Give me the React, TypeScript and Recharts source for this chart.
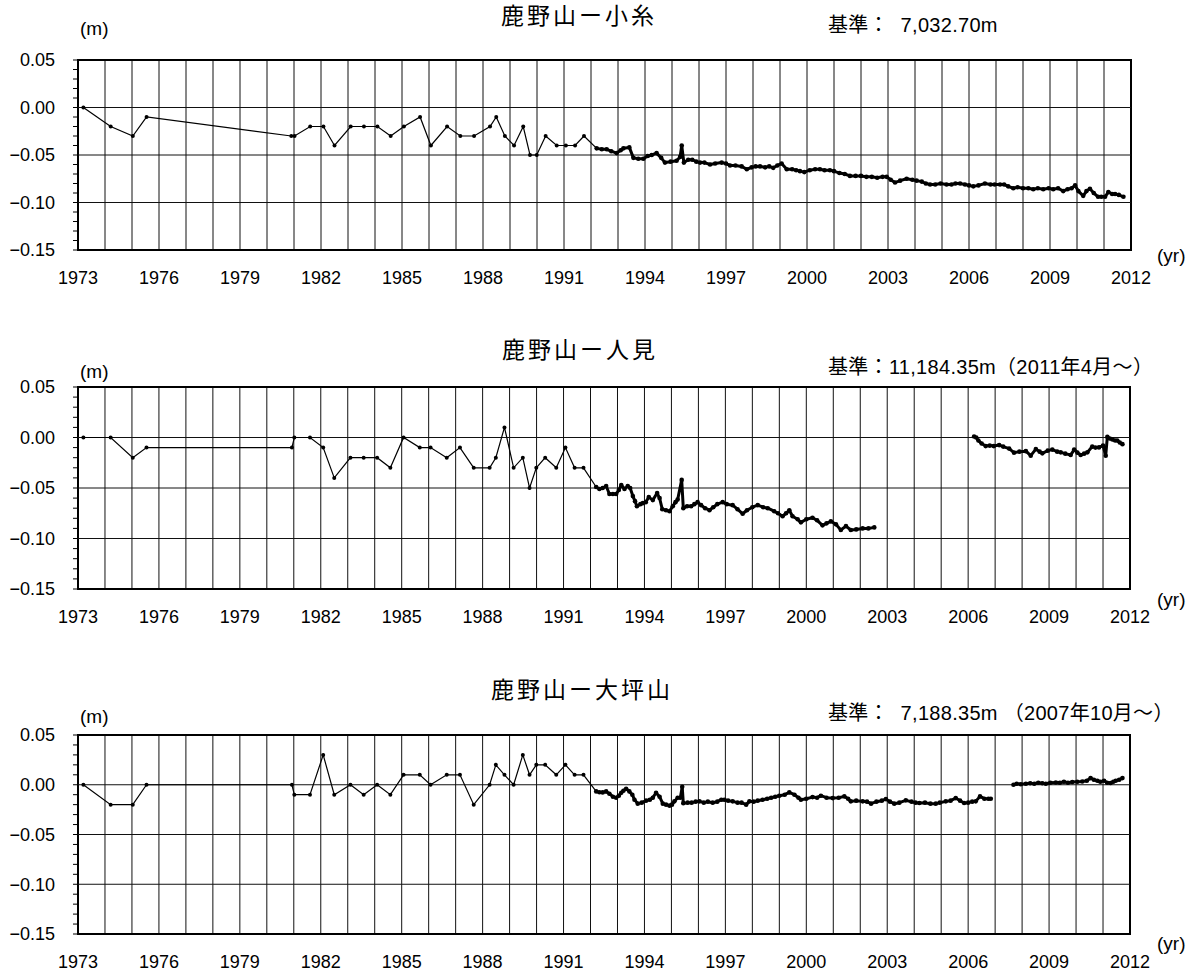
import React from 'react';
import {
  LineChart,
  Line,
  XAxis,
  YAxis,
  CartesianGrid,
  ReferenceLine,
  ReferenceArea
} from 'recharts';

// x-axis: gridline every year, label every 3 years
const yearTicks = [
  1973, 1974, 1975, 1976, 1977, 1978, 1979, 1980, 1981, 1982,
  1983, 1984, 1985, 1986, 1987, 1988, 1989, 1990, 1991, 1992,
  1993, 1994, 1995, 1996, 1997, 1998, 1999, 2000, 2001, 2002,
  2003, 2004, 2005, 2006, 2007, 2008, 2009, 2010, 2011, 2012
];
const labelYears = [1973, 1976, 1979, 1982, 1985, 1988, 1991, 1994, 1997, 2000, 2003, 2006, 2009, 2012];

// y-axis: minor tick every 0.01, labels / gridlines every 0.05
const yTicks = [
  -0.15, -0.14, -0.13, -0.12, -0.11, -0.1, -0.09, -0.08, -0.07, -0.06,
  -0.05, -0.04, -0.03, -0.02, -0.01, 0, 0.01, 0.02, 0.03, 0.04, 0.05
];
const yMajor = [-0.15, -0.1, -0.05, 0, 0.05];
const yGrid = [-0.1, -0.05, 0];

// 鹿野山ー小糸 : survey points up to 1991, then dense series
const koitoEarly: [number, number][] = [
  [1973.2, 0], [1974.21, -0.02], [1975.03, -0.03], [1975.54, -0.01],
  [1980.9, -0.03], [1981.02, -0.03], [1981.6, -0.02], [1982.09, -0.02], [1982.5, -0.04],
  [1983.1, -0.02], [1983.59, -0.02], [1984.09, -0.02], [1984.58, -0.03], [1985.07, -0.02],
  [1985.67, -0.01], [1986.07, -0.04], [1986.67, -0.02], [1987.16, -0.03], [1987.67, -0.03],
  [1988.26, -0.02], [1988.49, -0.01], [1988.81, -0.03], [1989.15, -0.04], [1989.49, -0.02],
  [1989.74, -0.05], [1989.99, -0.05], [1990.32, -0.03], [1990.73, -0.04], [1991.07, -0.04],
  [1991.41, -0.04], [1991.74, -0.03]
];
const koitoDense: [number, number][] = [
  [1992.21, -0.043], [1992.4, -0.044], [1992.58, -0.044], [1992.75, -0.046], [1992.95, -0.048],
  [1993.1, -0.045], [1993.2, -0.043], [1993.42, -0.042], [1993.57, -0.053], [1993.75, -0.054],
  [1993.94, -0.054], [1994.1, -0.051], [1994.25, -0.05], [1994.43, -0.048], [1994.6, -0.053],
  [1994.74, -0.058], [1994.95, -0.057], [1995.17, -0.056], [1995.3, -0.052], [1995.36, -0.04],
  [1995.44, -0.058], [1995.6, -0.055], [1995.75, -0.055], [1995.9, -0.057], [1996.04, -0.058],
  [1996.2, -0.058], [1996.41, -0.06], [1996.6, -0.059], [1996.84, -0.058], [1997.0, -0.059],
  [1997.15, -0.061], [1997.35, -0.061], [1997.58, -0.062], [1997.77, -0.065], [1997.95, -0.063],
  [1998.1, -0.062], [1998.26, -0.062], [1998.45, -0.063], [1998.6, -0.062], [1998.75, -0.0635],
  [1998.9, -0.061], [1999.06, -0.059], [1999.25, -0.065], [1999.45, -0.065], [1999.6, -0.066],
  [1999.74, -0.067], [1999.9, -0.068], [2000.1, -0.066], [2000.3, -0.065], [2000.48, -0.065],
  [2000.65, -0.066], [2000.85, -0.066], [2001.0, -0.067], [2001.2, -0.069], [2001.4, -0.07],
  [2001.59, -0.072], [2001.8, -0.072], [2002.0, -0.072], [2002.2, -0.073], [2002.4, -0.073],
  [2002.6, -0.074], [2002.8, -0.073], [2002.95, -0.073], [2003.1, -0.076], [2003.26, -0.079],
  [2003.45, -0.077], [2003.69, -0.075], [2003.9, -0.076], [2004.06, -0.077], [2004.25, -0.078],
  [2004.4, -0.08], [2004.56, -0.081], [2004.75, -0.081], [2004.95, -0.08], [2005.17, -0.081],
  [2005.35, -0.081], [2005.5, -0.08], [2005.67, -0.08], [2005.85, -0.081], [2006.0, -0.082],
  [2006.16, -0.083], [2006.35, -0.082], [2006.59, -0.08], [2006.8, -0.081], [2006.95, -0.081],
  [2007.15, -0.081], [2007.3, -0.081], [2007.45, -0.083], [2007.64, -0.085], [2007.8, -0.084],
  [2008.0, -0.085], [2008.2, -0.085], [2008.38, -0.086], [2008.55, -0.085], [2008.75, -0.086],
  [2008.95, -0.085], [2009.12, -0.086], [2009.3, -0.085], [2009.49, -0.088], [2009.65, -0.086],
  [2009.8, -0.085], [2009.93, -0.082], [2010.05, -0.088], [2010.23, -0.093], [2010.35, -0.088],
  [2010.48, -0.0856], [2010.62, -0.09], [2010.78, -0.094], [2010.9, -0.094], [2011.04, -0.094],
  [2011.16, -0.089], [2011.3, -0.091], [2011.41, -0.091], [2011.55, -0.092], [2011.72, -0.094]
];

// 鹿野山ー人見 : early points, dense to 2002, gap, then dense from 2006
const hitomiEarly: [number, number][] = [
  [1973.2, 0], [1974.21, 0], [1975.03, -0.02], [1975.54, -0.01],
  [1980.93, -0.01], [1981.02, 0], [1981.6, 0], [1982.09, -0.01], [1982.5, -0.04],
  [1983.1, -0.02], [1983.59, -0.02], [1984.09, -0.02], [1984.58, -0.03], [1985.07, 0],
  [1985.67, -0.01], [1986.07, -0.01], [1986.67, -0.02], [1987.16, -0.01], [1987.67, -0.03],
  [1988.26, -0.03], [1988.49, -0.02], [1988.81, 0.01], [1989.15, -0.03], [1989.49, -0.02],
  [1989.74, -0.05], [1989.99, -0.03], [1990.32, -0.02], [1990.73, -0.03], [1991.07, -0.01],
  [1991.41, -0.03], [1991.74, -0.03]
];
const hitomiDense: [number, number][] = [
  [1992.21, -0.049], [1992.33, -0.051], [1992.45, -0.05], [1992.58, -0.048], [1992.7, -0.056],
  [1992.83, -0.056], [1992.95, -0.056], [1993.05, -0.052], [1993.14, -0.047], [1993.26, -0.051],
  [1993.38, -0.048], [1993.47, -0.05], [1993.57, -0.058], [1993.65, -0.063], [1993.72, -0.068],
  [1993.85, -0.066], [1993.94, -0.065], [1994.05, -0.064], [1994.16, -0.059], [1994.31, -0.062],
  [1994.47, -0.055], [1994.56, -0.06], [1994.66, -0.071], [1994.8, -0.072], [1994.93, -0.073],
  [1995.05, -0.068], [1995.15, -0.064], [1995.23, -0.0615], [1995.38, -0.042], [1995.44, -0.07],
  [1995.58, -0.068], [1995.73, -0.068], [1995.85, -0.066], [1995.97, -0.064], [1996.1, -0.067],
  [1996.25, -0.07], [1996.41, -0.072], [1996.55, -0.069], [1996.7, -0.066], [1996.9, -0.064],
  [1997.05, -0.066], [1997.27, -0.067], [1997.45, -0.071], [1997.64, -0.0755], [1997.8, -0.072],
  [1998.0, -0.069], [1998.2, -0.067], [1998.4, -0.069], [1998.57, -0.07], [1998.81, -0.073],
  [1998.95, -0.075], [1999.12, -0.078], [1999.25, -0.075], [1999.37, -0.072], [1999.49, -0.078],
  [1999.68, -0.081], [1999.8, -0.084], [2000.0, -0.081], [2000.23, -0.0795], [2000.4, -0.082],
  [2000.6, -0.087], [2000.75, -0.085], [2000.91, -0.083], [2001.1, -0.086], [2001.28, -0.0916],
  [2001.47, -0.0877], [2001.65, -0.0916], [2001.85, -0.091], [2002.09, -0.09], [2002.3, -0.09],
  [2002.52, -0.089]
];
const hitomiLate: [number, number][] = [
  [2006.22, 0.001], [2006.3, 0], [2006.38, -0.003], [2006.5, -0.006], [2006.65, -0.0085],
  [2006.8, -0.008], [2006.95, -0.0085], [2007.15, -0.0075], [2007.3, -0.009], [2007.52, -0.011],
  [2007.7, -0.015], [2007.9, -0.014], [2008.14, -0.0135], [2008.32, -0.018], [2008.51, -0.0115],
  [2008.65, -0.014], [2008.75, -0.0157], [2008.95, -0.013], [2009.12, -0.012], [2009.3, -0.014],
  [2009.43, -0.0147], [2009.6, -0.016], [2009.8, -0.0174], [2009.93, -0.012], [2010.05, -0.015],
  [2010.17, -0.0174], [2010.3, -0.016], [2010.42, -0.0147], [2010.6, -0.009], [2010.72, -0.01],
  [2010.85, -0.0098], [2011.0, -0.008], [2011.1, -0.018], [2011.16, 0.0006], [2011.25, -0.001],
  [2011.35, -0.002], [2011.45, -0.003], [2011.53, -0.003], [2011.62, -0.005], [2011.72, -0.0066]
];

// 鹿野山ー大坪山 : early points, dense to 2006, gap, then dense from 2007
const ohtsuboEarly: [number, number][] = [
  [1973.2, 0], [1974.21, -0.02], [1975.03, -0.02], [1975.54, 0],
  [1980.93, 0], [1981.02, -0.01], [1981.6, -0.01], [1982.09, 0.03], [1982.5, -0.01],
  [1983.1, 0], [1983.59, -0.01], [1984.09, 0], [1984.58, -0.01], [1985.07, 0.01],
  [1985.67, 0.01], [1986.07, 0], [1986.67, 0.01], [1987.16, 0.01], [1987.67, -0.02],
  [1988.26, 0], [1988.49, 0.02], [1988.81, 0.01], [1989.15, 0], [1989.49, 0.03],
  [1989.74, 0.01], [1989.99, 0.02], [1990.32, 0.02], [1990.73, 0.01], [1991.07, 0.02],
  [1991.41, 0.01], [1991.74, 0.01]
];
const ohtsuboDense: [number, number][] = [
  [1992.21, -0.0067], [1992.33, -0.0075], [1992.45, -0.0077], [1992.58, -0.0067], [1992.7, -0.009],
  [1992.83, -0.012], [1992.95, -0.013], [1993.05, -0.011], [1993.14, -0.008], [1993.22, -0.006],
  [1993.32, -0.004], [1993.44, -0.0067], [1993.55, -0.01], [1993.63, -0.015], [1993.75, -0.019],
  [1993.9, -0.018], [1994.06, -0.016], [1994.2, -0.015], [1994.31, -0.013], [1994.43, -0.008],
  [1994.56, -0.012], [1994.68, -0.019], [1994.8, -0.02], [1994.93, -0.021], [1995.02, -0.02],
  [1995.11, -0.0167], [1995.23, -0.013], [1995.33, -0.013], [1995.4, -0.002], [1995.44, -0.0185],
  [1995.6, -0.018], [1995.75, -0.018], [1995.9, -0.017], [1996.04, -0.0167], [1996.2, -0.018],
  [1996.35, -0.017], [1996.53, -0.018], [1996.7, -0.017], [1996.85, -0.015], [1996.96, -0.015],
  [1997.1, -0.016], [1997.27, -0.0167], [1997.45, -0.018], [1997.6, -0.018], [1997.77, -0.02],
  [1997.89, -0.0167], [1998.05, -0.017], [1998.2, -0.016], [1998.38, -0.015], [1998.55, -0.014],
  [1998.7, -0.013], [1998.85, -0.012], [1999.0, -0.011], [1999.2, -0.01], [1999.37, -0.0077],
  [1999.56, -0.01], [1999.71, -0.013], [1999.8, -0.015], [2000.0, -0.014], [2000.23, -0.0124],
  [2000.4, -0.013], [2000.54, -0.011], [2000.75, -0.013], [2000.98, -0.0134], [2001.2, -0.013],
  [2001.41, -0.0117], [2001.55, -0.014], [2001.65, -0.0167], [2001.85, -0.016], [2002.09, -0.0167],
  [2002.25, -0.017], [2002.4, -0.019], [2002.6, -0.017], [2002.8, -0.016], [2002.95, -0.0144],
  [2003.1, -0.017], [2003.26, -0.019], [2003.45, -0.018], [2003.69, -0.0157], [2003.9, -0.017],
  [2004.05, -0.018], [2004.19, -0.0184], [2004.4, -0.018], [2004.6, -0.019], [2004.8, -0.019],
  [2004.95, -0.018], [2005.17, -0.0167], [2005.35, -0.016], [2005.54, -0.0134], [2005.7, -0.016],
  [2005.85, -0.0184], [2006.0, -0.018], [2006.15, -0.017], [2006.28, -0.0167], [2006.44, -0.0117],
  [2006.6, -0.014], [2006.75, -0.014], [2006.84, -0.014]
];
const ohtsuboLate: [number, number][] = [
  [2007.68, 0], [2007.8, 0.001], [2007.95, 0.0005], [2008.14, 0.001], [2008.3, 0.0015],
  [2008.45, 0.001], [2008.6, 0.002], [2008.75, 0.0015], [2008.88, 0.001], [2009.05, 0.002],
  [2009.25, 0.0023], [2009.4, 0.002], [2009.55, 0.003], [2009.7, 0.002], [2009.86, 0.0027],
  [2010.05, 0.003], [2010.23, 0.0033], [2010.4, 0.004], [2010.54, 0.0067], [2010.66, 0.005],
  [2010.79, 0.004], [2010.9, 0.003], [2011.04, 0.004], [2011.15, 0.002], [2011.28, 0.0017],
  [2011.38, 0.003], [2011.47, 0.004], [2011.6, 0.005], [2011.72, 0.0067]
];

const latin = "'Liberation Sans', 'Noto Sans CJK JP', sans-serif";

const toPts = (arr: [number, number][]) => arr.map(([x, y]) => ({ x, y }));

const fmtY = (v: number) => {
  if (!yMajor.some((m) => Math.abs(m - v) < 1e-9)) return '';
  const s = Math.abs(v).toFixed(2);
  return v < -1e-9 ? '\u2212' + s : s;
};
const fmtX = (v: number) => (labelYears.includes(v) ? String(v) : '');

interface PanelProps {
  top: number;
  plotHeight: number;
  right: number;
  early: [number, number][];
  dense: [number, number][][];
}

const Panel: React.FC<PanelProps> = ({ top, plotHeight, right, early, dense }) => {
  // thin segment joining the last survey point to the first dense value
  const bridge: [number, number][] = [early[early.length - 1], dense[0][0]];
  return (
    <div style={{ position: 'absolute', left: 0, top }}>
      <LineChart
        width={1199}
        height={60 + plotHeight + 40}
        margin={{ top: 60, right, bottom: 0, left: 0 }}
      >
        <CartesianGrid horizontal={false} stroke="#111" strokeWidth={1} />
        {yGrid.map((v) => (
          <ReferenceLine key={v} y={v} stroke="#111" strokeWidth={1} />
        ))}
        <XAxis
          dataKey="x"
          type="number"
          domain={[1973, 2012]}
          ticks={yearTicks}
          tickFormatter={fmtX}
          interval={0}
          axisLine={false}
          tickLine={false}
          tickSize={0}
          tickMargin={21}
          height={40}
          tick={{ fill: '#000', fontSize: 18, fontFamily: latin }}
          allowDataOverflow
        />
        <YAxis
          type="number"
          domain={[-0.15, 0.05]}
          ticks={yTicks}
          tickFormatter={fmtY}
          interval={0}
          width={78}
          axisLine={false}
          tickLine={{ stroke: '#000' }}
          tickSize={5}
          tickMargin={18}
          tick={{ fill: '#000', fontSize: 18, fontFamily: latin }}
          allowDataOverflow
        />
        <ReferenceArea
          x1={1973}
          x2={2012}
          y1={-0.15}
          y2={0.05}
          fill="none"
          fillOpacity={0}
          stroke="#000"
          strokeWidth={2}
        />
        <Line
          data={toPts(early)}
          dataKey="y"
          type="linear"
          stroke="#000"
          strokeWidth={1.2}
          dot={{ r: 2, fill: '#000', stroke: 'none' }}
          isAnimationActive={false}
        />
        <Line
          data={toPts(bridge)}
          dataKey="y"
          type="linear"
          stroke="#000"
          strokeWidth={1.2}
          dot={false}
          isAnimationActive={false}
        />
        {dense.map((seg, i) => (
          <Line
            key={i}
            data={toPts(seg)}
            dataKey="y"
            type="linear"
            stroke="#000"
            strokeWidth={3}
            strokeLinejoin="round"
            dot={{ r: 2.3, fill: '#000', stroke: 'none' }}
            isAnimationActive={false}
          />
        ))}
      </LineChart>
    </div>
  );
};

const txt = (left: number, top: number, size: number, extra: React.CSSProperties = {}): React.CSSProperties => ({
  position: 'absolute',
  left,
  top,
  fontSize: size,
  lineHeight: `${size}px`,
  fontFamily: latin,
  color: '#000',
  whiteSpace: 'pre',
  ...extra
});

export default function App() {
  return (
    <div style={{ position: 'absolute', left: 0, top: 0, width: 1199, height: 973, background: '#fff', overflow: 'hidden' }}>
      <Panel top={0} plotHeight={190} right={68} early={koitoEarly} dense={[koitoDense]} />
      <Panel top={327} plotHeight={202} right={69} early={hitomiEarly} dense={[hitomiDense, hitomiLate]} />
      <Panel top={675} plotHeight={199} right={69} early={ohtsuboEarly} dense={[ohtsuboDense, ohtsuboLate]} />

      <div style={txt(501, 5, 23, { letterSpacing: 3 })}>鹿野山ー小糸</div>
      <div style={txt(828, 15, 20, { letterSpacing: 0.3 })}>基準：  7,032.70m</div>
      <div style={txt(80, 19, 19)}>(m)</div>
      <div style={txt(1157, 246, 19)}>(yr)</div>

      <div style={txt(502, 339, 23, { letterSpacing: 3 })}>鹿野山ー人見</div>
      <div style={txt(828, 357, 20, { letterSpacing: 0.3 })}>基準：11,184.35m（2011年4月～）</div>
      <div style={txt(80, 362, 19)}>(m)</div>
      <div style={txt(1157, 590, 19)}>(yr)</div>

      <div style={txt(491, 679, 23, { letterSpacing: 3 })}>鹿野山ー大坪山</div>
      <div style={txt(828, 703, 20, { letterSpacing: 0.3 })}>基準：  7,188.35m （2007年10月～）</div>
      <div style={txt(80, 707, 19)}>(m)</div>
      <div style={txt(1157, 934, 19)}>(yr)</div>
    </div>
  );
}
